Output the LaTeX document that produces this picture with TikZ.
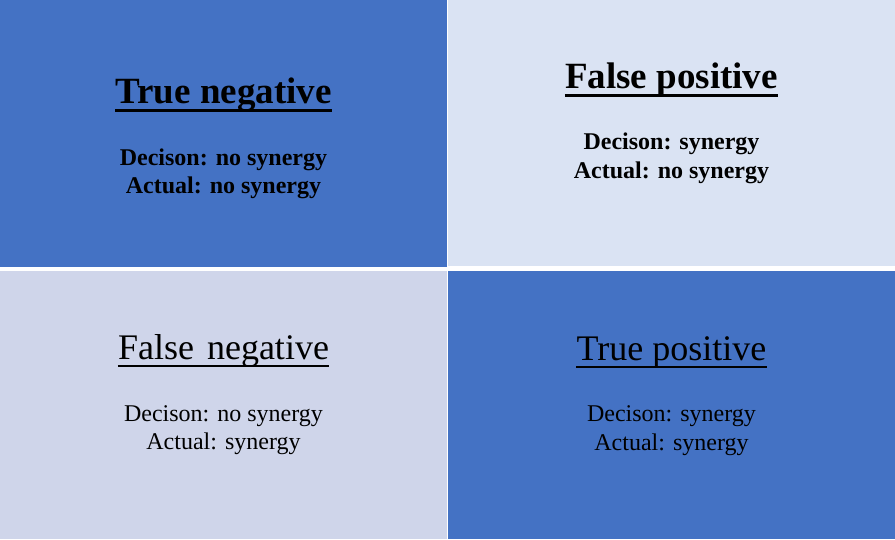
\documentclass[tikz,border=0pt]{standalone}
\usepackage{fontspec}
\setmainfont{Liberation Serif}
\usetikzlibrary{positioning}
\definecolor{cellblue}{HTML}{4472C4}
\definecolor{celllight}{HTML}{DAE3F3}
\definecolor{cellgrey}{HTML}{CFD5EA}

\begin{document}
\begin{tikzpicture}[
    x=1pt, y=-1pt,
    cell/.style={rectangle, fill=#1, inner sep=0pt, outer sep=0pt, anchor=north west, minimum width=447pt},
    ttl/.style={inner sep=0pt, anchor=base, font=\fontsize{36}{43}\selectfont#1},
    ttl/.default={},
    txt/.style={inner sep=0pt, anchor=base, font=\fontsize{24}{29}\selectfont#1},
    txt/.default={},
    uline/.style={line width=#1, black}
]
\useasboundingbox (0,0) rectangle (895,539);
\fill[white] (0,0) rectangle (895,539);

% the four cells
\node[cell=cellblue, minimum height=267pt] (tn) at (0,0) {};
\node[cell=celllight, minimum height=266pt] (fp) at (448,0) {};
\node[cell=cellgrey, minimum height=268pt] (fn) at (0,271) {};
\node[cell=cellblue, minimum height=268pt] (tp) at (448,271) {};

% true negative
\node[ttl=\fontsize{37}{44}\selectfont\bfseries] (tnt) at (223.5,103) {True negative};
\draw[uline=3pt] ([yshift=-7pt]tnt.base west) -- ([yshift=-7pt]tnt.base east);
\node[txt=\bfseries] (tnd) at (223.5,165) {Decison: no synergy};
\node[txt=\bfseries] (tna) at (223.5,193) {Actual: no synergy};

% false positive
\node[ttl=\fontsize{37}{44}\selectfont\bfseries] (fpt) at (671.5,88) {False positive};
\draw[uline=3pt] ([yshift=-7pt]fpt.base west) -- ([yshift=-7pt]fpt.base east);
\node[txt=\bfseries] (fpd) at (671.5,149) {Decison: synergy};
\node[txt=\bfseries] (fpa) at (671.5,178) {Actual: no synergy};

% false negative
\node[ttl] (fnt) at (223.5,359) {False\hspace{13pt}negative};
\draw[uline=2pt] ([yshift=-7pt]fnt.base west) -- ([yshift=-7pt]fnt.base east);
\node[txt] (fnd) at (223.5,421) {Decison: no synergy};
\node[txt] (fna) at (223.5,449) {Actual: synergy};

% true positive
\node[ttl] (tpt) at (671.5,360) {True positive};
\draw[uline=2pt] ([yshift=-7pt]tpt.base west) -- ([yshift=-7pt]tpt.base east);
\node[txt] (tpd) at (671.5,421) {Decison: synergy};
\node[txt] (tpa) at (671.5,450) {Actual: synergy};

\end{tikzpicture}
\end{document}
